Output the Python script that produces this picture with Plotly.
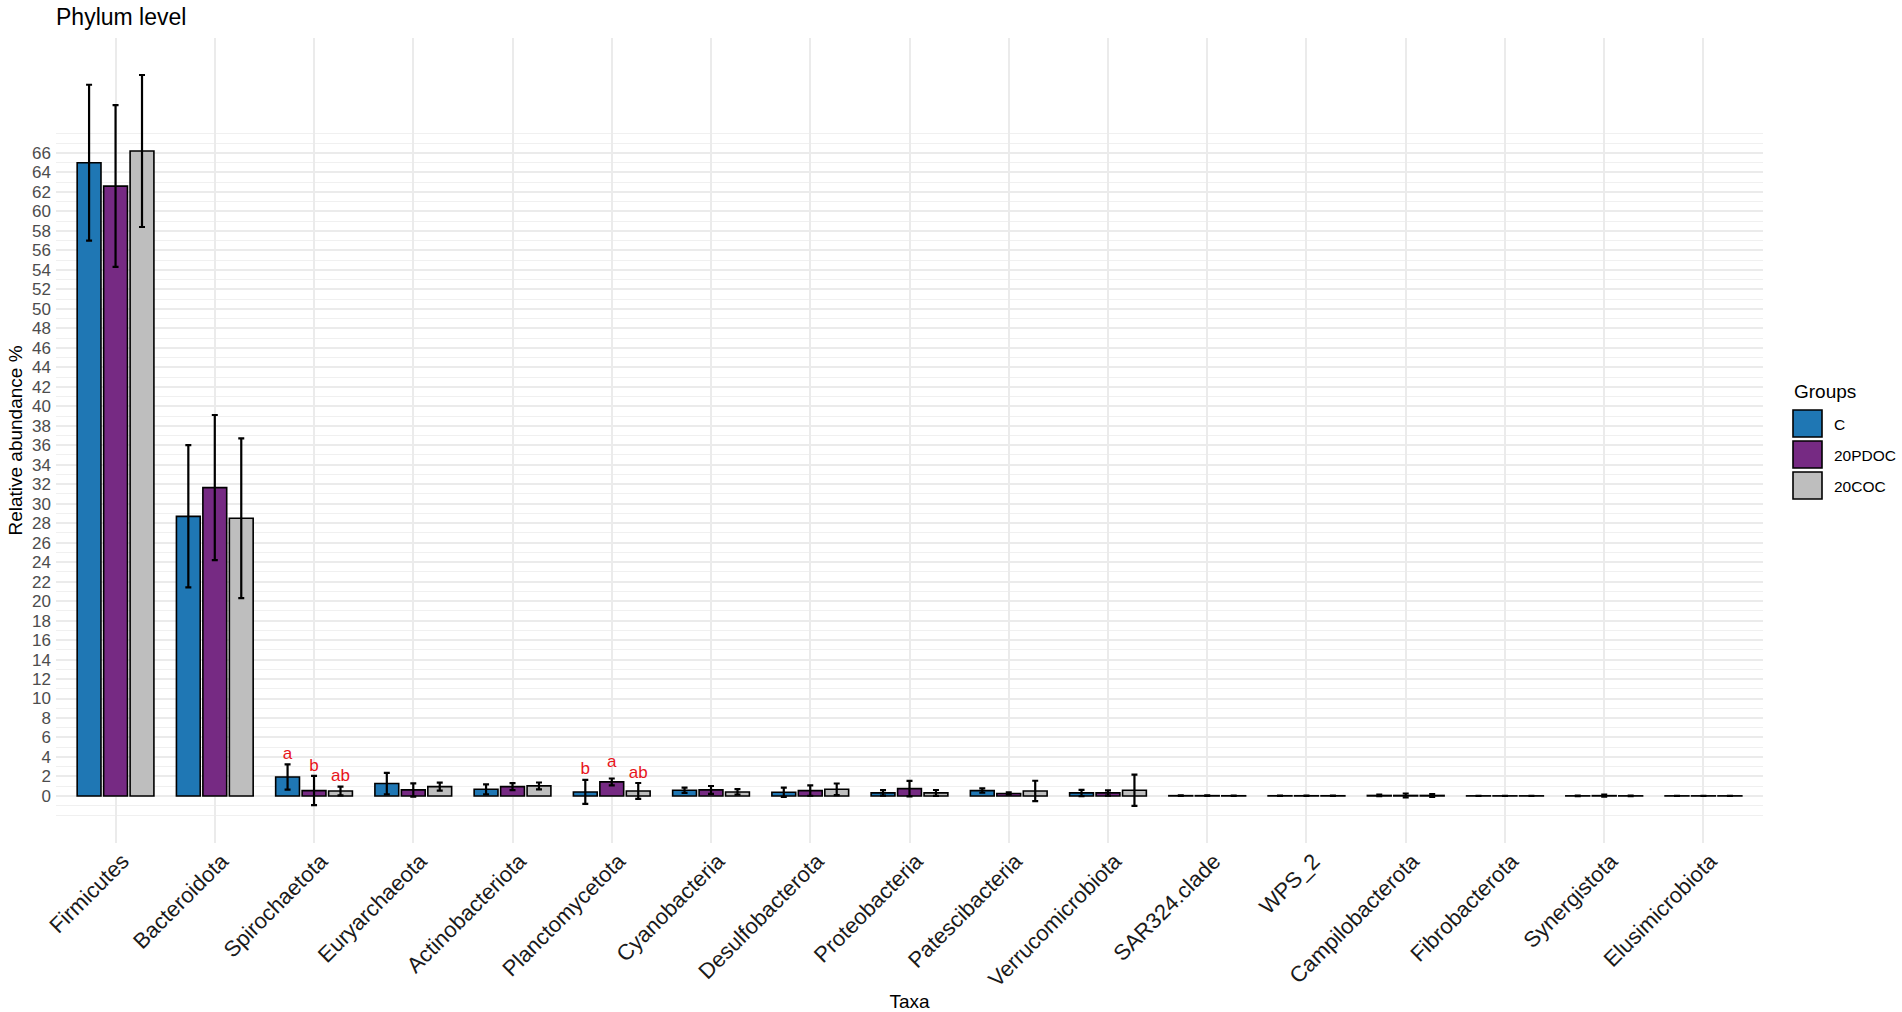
import plotly.graph_objects as go

# ---------------- data ----------------
taxa = ["Firmicutes", "Bacteroidota", "Spirochaetota", "Euryarchaeota", "Actinobacteriota",
        "Planctomycetota", "Cyanobacteria", "Desulfobacterota", "Proteobacteria",
        "Patescibacteria", "Verrucomicrobiota", "SAR324.clade", "WPS_2",
        "Campilobacterota", "Fibrobacterota", "Synergistota", "Elusimicrobiota"]

groups = ["C", "20PDOC", "20COC"]
colors = ["#1F77B4", "#762A83", "#BEBEBE"]

mean_C = [65.0, 28.7, 1.95, 1.27, 0.68, 0.41, 0.58, 0.38, 0.31, 0.55, 0.31, 0.03, 0.02, 0.05, 0.01, 0.01, 0.01]
sd_C = [8.0, 7.3, 1.3, 1.1, 0.51, 1.23, 0.27, 0.48, 0.28, 0.22, 0.32, 0.02, 0.01, 0.08, 0.01, 0.02, 0.01]
mean_P = [62.6, 31.65, 0.55, 0.62, 0.96, 1.44, 0.62, 0.55, 0.75, 0.25, 0.31, 0.03, 0.02, 0.05, 0.01, 0.03, 0.01]
sd_P = [8.3, 7.45, 1.5, 0.68, 0.36, 0.35, 0.40, 0.53, 0.80, 0.12, 0.27, 0.02, 0.01, 0.20, 0.01, 0.10, 0.01]
mean_O = [66.2, 28.5, 0.50, 0.96, 1.03, 0.51, 0.41, 0.68, 0.31, 0.51, 0.58, 0.02, 0.02, 0.05, 0.01, 0.01, 0.01]
sd_O = [7.8, 8.2, 0.45, 0.41, 0.35, 0.82, 0.28, 0.60, 0.30, 1.05, 1.60, 0.02, 0.01, 0.15, 0.01, 0.02, 0.01]

# significance letters and their heights
sig_C = ["", "", "a", "", "", "b", "", "", "", "", "", "", "", "", "", "", ""]
sig_P = ["", "", "b", "", "", "a", "", "", "", "", "", "", "", "", "", "", ""]
sig_O = ["", "", "ab", "", "", "ab", "", "", "", "", "", "", "", "", "", "", ""]
sig_y_C = [None, None, 4.18, None, None, 2.64, None, None, None, None, None, None, None, None, None, None, None]
sig_y_P = [None, None, 2.98, None, None, 3.39, None, None, None, None, None, None, None, None, None, None, None]
sig_y_O = [None, None, 1.95, None, None, 2.29, None, None, None, None, None, None, None, None, None, None, None]

y_ticks = list(range(0, 67, 2))
y_minor = [v for v in range(-2, 69) if v % 2 != 0 or v < 0 or v > 66]

means = [mean_C, mean_P, mean_O]
sds = [sd_C, sd_P, sd_O]
sigs = [sig_C, sig_P, sig_O]
sig_ys = [sig_y_C, sig_y_P, sig_y_O]

FONT = "Liberation Sans, Arial, sans-serif"
W, H = 1902, 1012
ML, MR, MT, MB = 56, 139, 38, 169
PW, PH = W - ML - MR, H - MT - MB

fig = go.Figure()
for g, col, m, s in zip(groups, colors, means, sds):
    fig.add_trace(go.Bar(
        x=taxa, y=m, name=g, offsetgroup=g,
        marker=dict(color=col, line=dict(color="black", width=1.6)),
        error_y=dict(type="data", array=s, visible=True, color="black", thickness=2.2, width=3),
        showlegend=False,
    ))

for g, sg, sy in zip(groups, sigs, sig_ys):
    fig.add_trace(go.Scatter(
        x=taxa, y=sy, text=sg, mode="text", offsetgroup=g,
        textfont=dict(color="#E8141B", size=17, family=FONT),
        textposition="middle center", showlegend=False, hoverinfo="skip",
    ))

# legend drawn at the right
def px_x(px):
    return (px - ML) / PW

def px_y(py):
    return (H - MB - py) / PH

shapes = []
annotations = []
annotations.append(dict(text="Groups", xref="paper", yref="paper", x=px_x(1792), y=px_y(391),
                        xanchor="left", yanchor="middle", showarrow=False,
                        font=dict(size=19, color="black", family=FONT)))
key_tops = [410, 441, 472]
for g, col, kt in zip(groups, colors, key_tops):
    shapes.append(dict(type="rect", xref="paper", yref="paper",
                       x0=px_x(1793), x1=px_x(1822), y0=px_y(kt + 27), y1=px_y(kt),
                       fillcolor=col, line=dict(color="black", width=1.6)))
    annotations.append(dict(text=g, xref="paper", yref="paper", x=px_x(1832), y=px_y(kt + 14),
                            xanchor="left", yanchor="middle", showarrow=False,
                            font=dict(size=15.5, color="black", family=FONT)))

fig.update_layout(
    width=W, height=H,
    margin=dict(l=ML, r=MR, t=MT, b=MB, autoexpand=False),
    paper_bgcolor="white", plot_bgcolor="white",
    barmode="group", bargap=0.2, bargroupgap=0.1,
    scattermode="group", scattergap=0.2,
    title=dict(text="Phylum level", x=ML / W, xanchor="left", xref="container",
               y=1 - 17 / H, yanchor="middle", yref="container",
               font=dict(size=23, color="black", family=FONT)),
    font=dict(family=FONT),
    shapes=shapes, annotations=annotations,
    showlegend=False,
)

fig.update_xaxes(
    type="category", range=[-0.6, len(taxa) - 0.4],
    showgrid=True, gridcolor="#EBEBEB", gridwidth=1.5,
    tickangle=-45, ticks="", showline=False, zeroline=False,
    ticklabelshift=7,
    tickfont=dict(size=22, color="#1A1A1A", family=FONT),
    title=dict(text="Taxa", font=dict(size=19, color="black", family=FONT), standoff=10),
)
fig.update_yaxes(
    range=[-4.83, 77.8],
    tickmode="array", tickvals=y_ticks, ticktext=[str(v) for v in y_ticks],
    showgrid=True, gridcolor="#EBEBEB", gridwidth=1.5,
    minor=dict(tickmode="array", tickvals=y_minor, showgrid=True, gridcolor="#F0F0F0", gridwidth=1.2, ticks=""),
    ticks="", showline=False, zeroline=False,
    tickfont=dict(size=17, color="#4D4D4D", family=FONT),
    ticklabelstandoff=4,
    title=dict(text="Relative abundance %", font=dict(size=19, color="black", family=FONT), standoff=4),
)

fig.write_html("out.html", config={"displayModeBar": False},
               post_script="document.body.style.margin='0';document.body.style.overflow='hidden';")
